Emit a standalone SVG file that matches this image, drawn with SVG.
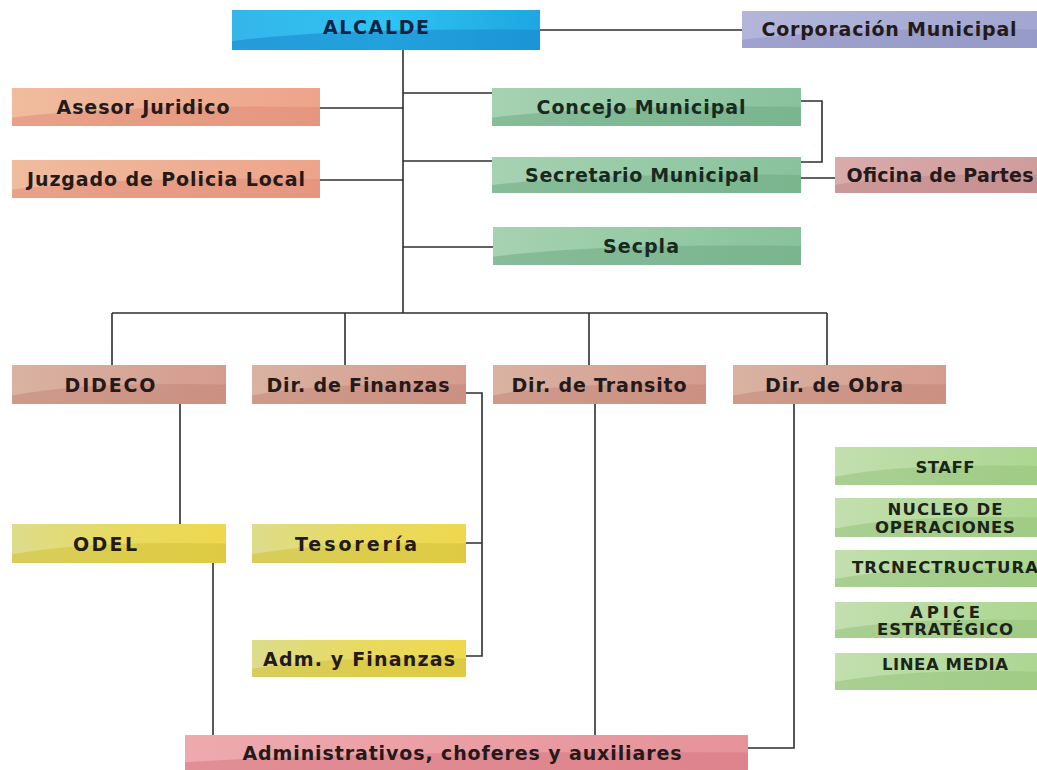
<svg xmlns="http://www.w3.org/2000/svg" xmlns:xlink="http://www.w3.org/1999/xlink" width="1037" height="770" viewBox="0 0 1037 770">
<style>
text{font-family:"DejaVu Sans",Verdana,"Liberation Sans",sans-serif;font-weight:bold;font-size:19px;fill:#241a1a;text-anchor:middle}
.lg text{font-size:16.5px;fill:#1c2418}
.cn{fill:none;stroke:#2e2e2e;stroke-width:1.6}
.sw{opacity:0.55}
</style>
<defs>
<symbol id="sw" viewBox="0 0 100 100" preserveAspectRatio="none"><path d="M0,100 L0,78 Q35,42 100,50 L100,100 Z"/></symbol>
<linearGradient id="gBlue" x1="0" y1="0" x2="1" y2="0"><stop offset="0" stop-color="#35b5ea"/><stop offset="0.5" stop-color="#2ec4f2"/><stop offset="1" stop-color="#1ea6e0"/></linearGradient>
<linearGradient id="gLav" x1="0" y1="0" x2="1" y2="0"><stop offset="0" stop-color="#b3b6da"/><stop offset="1" stop-color="#a2a6d0"/></linearGradient>
<linearGradient id="gSal" x1="0" y1="0" x2="1" y2="0"><stop offset="0" stop-color="#f0bc9e"/><stop offset="1" stop-color="#eda48a"/></linearGradient>
<linearGradient id="gGrn" x1="0" y1="0" x2="1" y2="0"><stop offset="0" stop-color="#a6d2b2"/><stop offset="1" stop-color="#88c29c"/></linearGradient>
<linearGradient id="gPnk" x1="0" y1="0" x2="1" y2="0"><stop offset="0" stop-color="#d9abab"/><stop offset="1" stop-color="#cf9c9c"/></linearGradient>
<linearGradient id="gRos" x1="0" y1="0" x2="1" y2="0"><stop offset="0" stop-color="#d9b2a2"/><stop offset="1" stop-color="#d49c8e"/></linearGradient>
<linearGradient id="gYel" x1="0" y1="0" x2="1" y2="0"><stop offset="0" stop-color="#dcdc8c"/><stop offset="0.5" stop-color="#e8da60"/><stop offset="1" stop-color="#eed84e"/></linearGradient>
<linearGradient id="gRed" x1="0" y1="0" x2="1" y2="0"><stop offset="0" stop-color="#eeaaae"/><stop offset="1" stop-color="#e6929a"/></linearGradient>
<linearGradient id="gLeg" x1="0" y1="0" x2="1" y2="0"><stop offset="0" stop-color="#c2dfae"/><stop offset="1" stop-color="#add692"/></linearGradient>
</defs>

<g id="connectors">
<path class="cn" d="M540,30 H742"/>
<path class="cn" d="M403,50 V313"/>
<path class="cn" d="M320,108 H403"/>
<path class="cn" d="M320,180 H403"/>
<path class="cn" d="M403,93 H492"/>
<path class="cn" d="M403,161 H492"/>
<path class="cn" d="M801,101 H822 V162 H801"/>
<path class="cn" d="M801,178 H835"/>
<path class="cn" d="M403,247 H493"/>
<path class="cn" d="M112,313 H827"/>
<path class="cn" d="M112,313 V365 M345,313 V365 M589,313 V365 M827,313 V365"/>
<path class="cn" d="M180,404 V524"/>
<path class="cn" d="M466,393 H482 V656 H466 M466,543 H482"/>
<path class="cn" d="M213,563 V735"/>
<path class="cn" d="M595,404 V735"/>
<path class="cn" d="M794,404 V748 H748"/>
</g>

<g id="n-alcalde"><rect x="232" y="10" width="308" height="40" fill="url(#gBlue)"/><use xlink:href="#sw" x="232" y="10" width="308" height="40" fill="#1a86cc" class="sw"/><text x="376" y="34" textLength="106" style="fill:#122244">ALCALDE</text></g>
<g id="n-corporacion"><rect x="742" y="11" width="295" height="37" fill="url(#gLav)"/><use xlink:href="#sw" x="742" y="11" width="295" height="37" fill="#8e92c2" class="sw"/><text x="889" y="36" textLength="255">Corporación Municipal</text></g>
<g id="n-asesor"><rect x="12" y="88" width="308" height="38" fill="url(#gSal)"/><use xlink:href="#sw" x="12" y="88" width="308" height="38" fill="#e28c76" class="sw"/><text x="143" y="114" textLength="173">Asesor Juridico</text></g>
<g id="n-juzgado"><rect x="12" y="160" width="308" height="38" fill="url(#gSal)"/><use xlink:href="#sw" x="12" y="160" width="308" height="38" fill="#e28c76" class="sw"/><text x="166" y="186" textLength="278">Juzgado de Policia Local</text></g>
<g id="n-concejo"><rect x="492" y="88" width="309" height="38" fill="url(#gGrn)"/><use xlink:href="#sw" x="492" y="88" width="309" height="38" fill="#6eab84" class="sw"/><text x="641" y="114" textLength="209" style="fill:#182a20">Concejo Municipal</text></g>
<g id="n-secretario"><rect x="492" y="157" width="309" height="36" fill="url(#gGrn)"/><use xlink:href="#sw" x="492" y="157" width="309" height="36" fill="#6eab84" class="sw"/><text x="642" y="182" textLength="234" style="fill:#182a20">Secretario Municipal</text></g>
<g id="n-oficina"><rect x="835" y="157" width="202" height="36" fill="url(#gPnk)"/><use xlink:href="#sw" x="835" y="157" width="202" height="36" fill="#c08888" class="sw"/><text x="940" y="182" textLength="187">Oficina de Partes</text></g>
<g id="n-secpla"><rect x="493" y="227" width="308" height="38" fill="url(#gGrn)"/><use xlink:href="#sw" x="493" y="227" width="308" height="38" fill="#6eab84" class="sw"/><text x="641" y="253" textLength="76" style="fill:#182a20">Secpla</text></g>
<g id="n-dideco"><rect x="12" y="365" width="214" height="39" fill="url(#gRos)"/><use xlink:href="#sw" x="12" y="365" width="214" height="39" fill="#c4887a" class="sw"/><text x="110" y="392" textLength="91">DIDECO</text></g>
<g id="n-finanzas"><rect x="252" y="365" width="214" height="39" fill="url(#gRos)"/><use xlink:href="#sw" x="252" y="365" width="214" height="39" fill="#c4887a" class="sw"/><text x="358" y="392" textLength="183">Dir. de Finanzas</text></g>
<g id="n-transito"><rect x="493" y="365" width="213" height="39" fill="url(#gRos)"/><use xlink:href="#sw" x="493" y="365" width="213" height="39" fill="#c4887a" class="sw"/><text x="599" y="392" textLength="175">Dir. de Transito</text></g>
<g id="n-obra"><rect x="733" y="365" width="213" height="39" fill="url(#gRos)"/><use xlink:href="#sw" x="733" y="365" width="213" height="39" fill="#c4887a" class="sw"/><text x="834" y="392" textLength="138">Dir. de Obra</text></g>
<g id="n-odel"><rect x="12" y="524" width="214" height="39" fill="url(#gYel)"/><use xlink:href="#sw" x="12" y="524" width="214" height="39" fill="#d2c23a" class="sw"/><text x="105" y="551" textLength="64">ODEL</text></g>
<g id="n-tesoreria"><rect x="252" y="524" width="214" height="39" fill="url(#gYel)"/><use xlink:href="#sw" x="252" y="524" width="214" height="39" fill="#d2c23a" class="sw"/><text x="356" y="551" textLength="122">Tesorería</text></g>
<g id="n-adm"><rect x="252" y="640" width="214" height="37" fill="url(#gYel)"/><use xlink:href="#sw" x="252" y="640" width="214" height="37" fill="#d2c23a" class="sw"/><text x="359" y="666" textLength="192">Adm. y Finanzas</text></g>
<g id="n-administrativos"><rect x="185" y="735" width="563" height="35" fill="url(#gRed)"/><use xlink:href="#sw" x="185" y="735" width="563" height="35" fill="#d87882" class="sw"/><text x="462" y="760" textLength="439">Administrativos, choferes y auxiliares</text></g>

<g id="legend" class="lg">
<g id="l-staff"><rect x="835" y="447" width="202" height="38" fill="url(#gLeg)"/><use xlink:href="#sw" x="835" y="447" width="202" height="38" fill="#96c47c" class="sw"/><text x="945" y="473" textLength="59">STAFF</text></g>
<g id="l-nucleo"><rect x="835" y="498" width="202" height="39" fill="url(#gLeg)"/><use xlink:href="#sw" x="835" y="498" width="202" height="39" fill="#96c47c" class="sw"/><text x="945" y="515" textLength="115">NUCLEO DE</text><text x="945" y="533" textLength="140">OPERACIONES</text></g>
<g id="l-tecno"><rect x="835" y="550" width="202" height="37" fill="url(#gLeg)"/><use xlink:href="#sw" x="835" y="550" width="202" height="37" fill="#96c47c" class="sw"/><text x="945" y="573" textLength="186">TRCNECTRUCTURA</text></g>
<g id="l-apice"><rect x="835" y="602" width="202" height="36" fill="url(#gLeg)"/><use xlink:href="#sw" x="835" y="602" width="202" height="36" fill="#96c47c" class="sw"/><text x="945" y="618" textLength="70">APICE</text><text x="945" y="635" textLength="136">ESTRATÉGICO</text></g>
<g id="l-linea"><rect x="835" y="653" width="202" height="37" fill="url(#gLeg)"/><use xlink:href="#sw" x="835" y="653" width="202" height="37" fill="#96c47c" class="sw"/><text x="945" y="670" textLength="126">LINEA MEDIA</text></g>
</g>
</svg>
